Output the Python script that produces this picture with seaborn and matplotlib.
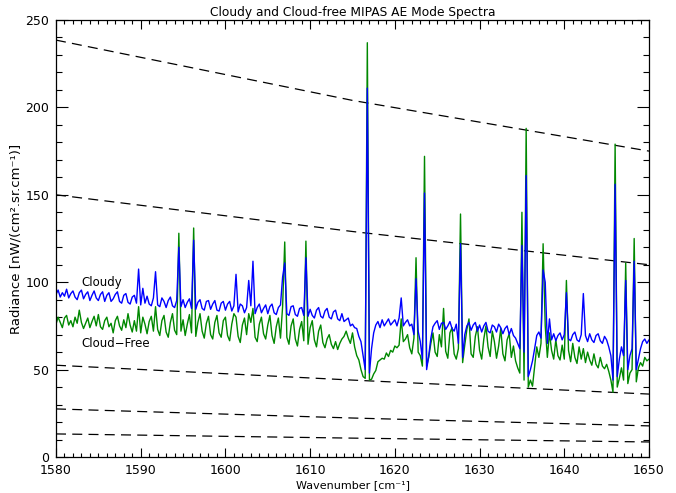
import numpy as np
import pandas as pd
import matplotlib
matplotlib.use("Agg")
import matplotlib.pyplot as plt
import seaborn as sns
from matplotlib.ticker import MultipleLocator

# ---------------- data ----------------
wn_start, wn_step = 1580.0, 0.25
cloudy = [
    93.0, 95.5, 91.5, 94.0, 92.0, 96.0, 91.0, 93.5, 95.0, 91.5, 90.0, 94.0, 95.5, 90.5, 93.0, 94.5, 89.5, 92.5, 95.0, 91.0,
    89.5, 93.0, 94.5, 89.0, 92.5, 94.0, 89.0, 90.5, 93.0, 94.5, 89.0, 88.0, 92.5, 93.5, 88.5, 87.5, 91.5, 92.5, 88.0, 107.5,
    87.0, 96.5, 88.0, 92.0, 87.5, 86.5, 91.0, 106.0, 87.0, 86.0, 91.0, 89.0, 85.5, 89.5, 91.5, 86.5, 85.5, 89.5, 120.0, 86.0,
    90.0, 85.5, 88.5, 90.5, 85.0, 124.0, 84.5, 88.5, 90.0, 85.0, 84.0, 89.0, 89.5, 84.5, 87.5, 89.5, 84.0, 83.5, 88.0, 89.0,
    84.0, 87.5, 89.0, 83.5, 86.5, 104.5, 83.0, 87.5, 86.5, 82.5, 85.5, 101.0, 86.5, 112.0, 82.0, 85.5, 87.5, 82.5, 85.0, 87.0,
    82.0, 86.0, 87.5, 82.5, 81.5, 85.5, 87.0, 103.0, 111.0, 82.0, 81.0, 86.0, 86.5, 81.5, 80.5, 85.0, 85.5, 81.0, 114.0, 80.5,
    84.5, 81.0, 79.5, 84.0, 85.5, 80.5, 79.5, 83.5, 85.0, 80.0, 79.0, 83.0, 84.0, 79.0, 78.0, 82.0, 77.5, 78.5, 79.5, 75.0,
    76.0, 74.0, 73.5, 69.0, 66.0, 58.0, 50.0, 211.0, 48.0, 62.0, 71.0, 75.5, 77.5, 74.0, 78.5, 75.0, 77.0, 79.0, 75.5, 77.0,
    78.5, 75.0, 79.5, 91.0, 75.0, 77.0, 78.5, 75.0, 76.0, 70.0, 102.0, 72.0, 66.0, 56.0, 151.0, 50.0, 58.0, 68.0, 74.5, 76.5,
    78.0, 73.0, 76.5, 77.0, 73.0, 75.0, 77.5, 73.5, 72.0, 76.0, 65.0, 122.0, 57.0, 70.0, 75.0, 77.0, 72.5, 75.5, 77.0, 72.0,
    75.5, 71.5, 75.0, 77.0, 72.0, 71.0, 75.5, 74.5, 71.5, 76.0, 74.0, 70.5, 73.5, 75.0, 70.0, 73.5, 69.5, 68.0, 65.0, 62.0,
    121.0, 60.0, 161.0, 46.0, 50.0, 55.0, 62.0, 69.5, 71.5, 68.0, 107.0, 100.0, 65.0, 79.0, 67.0, 70.5, 66.5, 69.5, 71.0, 67.0,
    70.0, 94.0, 67.5, 66.5, 70.0, 71.5, 67.0, 66.0, 70.0, 93.5, 69.5, 66.0, 70.5, 67.0, 65.5, 69.5, 70.5, 66.5, 65.0, 69.0,
    67.0, 63.0, 58.0, 44.0, 156.0, 46.0, 56.0, 63.0, 58.0, 101.0, 50.0, 58.0, 62.0, 112.0, 50.0, 56.0, 62.0, 66.0, 67.5, 65.0,
    67.0,
]
cloud_free = [
    76.0, 80.0, 77.0, 74.0, 79.5, 81.0, 75.5, 78.0, 74.5, 80.0, 76.5, 84.0, 77.0, 73.5, 76.5, 79.5, 74.0, 77.5, 80.5, 75.0,
    81.5, 74.5, 73.0, 78.0, 80.0, 74.5, 76.5, 71.0, 78.0, 80.5, 75.0, 72.5, 78.5, 74.0, 82.0, 75.5, 71.5, 78.0, 72.0, 86.0,
    71.0, 80.0, 76.0, 70.5, 77.5, 80.5, 72.0, 86.0, 73.0, 69.5, 78.0, 81.0, 71.5, 68.5, 77.0, 82.0, 72.5, 70.0, 128.0, 72.0,
    78.5, 69.5, 76.0, 81.5, 71.0, 131.0, 69.0, 77.0, 82.0, 72.0, 68.0, 76.5, 80.5, 70.0, 67.5, 77.0, 81.0, 71.0, 68.5, 78.0,
    80.0, 69.5, 66.5, 76.0, 82.0, 80.0, 69.0, 65.5, 75.5, 79.5, 70.0, 82.0, 77.0, 85.0, 68.5, 66.0, 76.0, 80.0, 70.5, 67.5,
    75.5, 81.0, 69.5, 65.0, 74.5, 79.5, 68.0, 86.0, 123.0, 68.5, 64.5, 75.0, 79.0, 67.5, 63.5, 73.0, 77.5, 66.5, 123.5, 64.5,
    74.0, 78.0, 67.0, 63.0, 72.0, 75.5, 65.5, 62.5, 67.5, 70.0, 64.5, 62.0, 66.0, 61.5, 65.0, 67.5, 69.0, 72.0, 68.0, 65.0,
    71.0, 63.0, 58.0, 55.5, 50.0, 46.0, 45.0, 237.0, 44.0, 44.5, 47.5, 49.5, 54.5, 55.5, 56.5, 56.0, 59.5, 57.5, 61.0, 60.0,
    63.5, 62.5, 64.0, 79.0, 66.0, 67.5, 70.0, 62.5, 59.0, 68.0, 114.0, 60.0, 58.0, 52.0, 172.0, 52.0, 57.0, 65.0, 71.0, 60.0,
    57.5, 70.0, 63.0, 85.0, 60.5, 56.5, 71.0, 74.0, 59.0, 56.0, 62.0, 139.0, 54.0, 64.0, 73.0, 79.0, 59.0, 57.0, 69.0, 74.5,
    61.0, 56.0, 67.5, 75.0, 63.0, 57.5, 72.0, 66.0, 56.5, 63.5, 73.5, 59.0, 55.0, 67.0, 70.5, 57.0, 63.5, 55.0, 51.0, 48.0,
    140.0, 44.0, 188.0, 40.0, 44.0, 40.5, 52.0, 63.0, 57.0, 65.0, 122.0, 75.0, 57.0, 71.0, 61.0, 56.0, 67.0, 58.0, 55.5, 64.0,
    56.0, 101.0, 61.0, 54.5, 65.0, 57.0, 53.5, 63.0, 56.0, 62.0, 54.0, 60.0, 55.5, 52.5, 59.0, 53.0, 51.0, 57.0, 52.0, 50.5,
    53.0, 49.0, 44.0, 37.0, 179.0, 40.0, 45.0, 51.0, 44.0, 111.0, 42.0, 48.0, 50.0, 125.0, 43.0, 51.0, 54.0, 52.0, 57.0, 55.0,
    56.0,
]
# reference (dashed) curves, sampled at three wavenumbers
ref_wn = [1580, 1615, 1650]
ref_curves = [
    [238.5, 204.0, 175.0],
    [150.0, 129.0, 110.0],
    [52.5, 44.0, 36.0],
    [27.5, 22.3, 17.8],
    [13.2, 10.8, 8.6],
]

title = "Cloudy and Cloud-free MIPAS AE Mode Spectra"
xlabel = "Wavenumber [cm\u207b\u00b9]"
ylabel = "Radiance [nW/(cm\u00b2.sr.cm\u207b\u00b9)]"

# ---------------- plot ----------------
sns.set_style("ticks")
plt.rcParams["font.family"] = ["DejaVu Sans"]
plt.rcParams["text.color"] = "black"
plt.rcParams["axes.labelcolor"] = "black"

wn = wn_start + wn_step * np.arange(len(cloudy))
df = pd.DataFrame({"wn": wn, "Cloudy": cloudy, "Cloud-Free": cloud_free})

fig = plt.figure(figsize=(6.76, 4.93), dpi=100)
ax = fig.add_axes([56 / 676, 36 / 493, 593 / 676, 437 / 493])

for curve in ref_curves:
    sns.lineplot(x=ref_wn, y=curve, ax=ax, color="black", lw=0.9,
                 linestyle=(0, (8, 5)), estimator=None)

sns.lineplot(data=df, x="wn", y="Cloud-Free", ax=ax, color="#008800",
             lw=1.0, estimator=None)
sns.lineplot(data=df, x="wn", y="Cloudy", ax=ax, color="#0000ff",
             lw=1.0, estimator=None)

ax.set_xlim(1580, 1650)
ax.set_ylim(0, 250)
ax.xaxis.set_major_locator(MultipleLocator(10))
ax.xaxis.set_minor_locator(MultipleLocator(1))
ax.yaxis.set_major_locator(MultipleLocator(50))
ax.yaxis.set_minor_locator(MultipleLocator(10))
ax.tick_params(axis="both", which="both", direction="in", top=True, right=True,
               color="black", width=0.8, labelsize=9, labelcolor="black")
ax.tick_params(axis="x", which="major", length=6.3, pad=5)
ax.tick_params(axis="x", which="minor", length=3.2)
ax.tick_params(axis="y", which="major", length=8.6, pad=5)
ax.tick_params(axis="y", which="minor", length=4.3)
for s in ax.spines.values():
    s.set_visible(True)
    s.set_linewidth(0.9)
    s.set_color("black")

ax.set_title(title, fontsize=8.8, pad=3, color="black")
ax.set_xlabel(xlabel, fontsize=8, labelpad=2, color="black")
ax.set_ylabel(ylabel, fontsize=9.5, labelpad=2, color="black")

ax.text(1583.0, 100, "Cloudy", fontsize=8.5, va="center", ha="left", color="black")
ax.text(1583.0, 65, "Cloud\u2212Free", fontsize=8.5, va="center", ha="left", color="black")

fig.savefig("out.png", dpi=100)
